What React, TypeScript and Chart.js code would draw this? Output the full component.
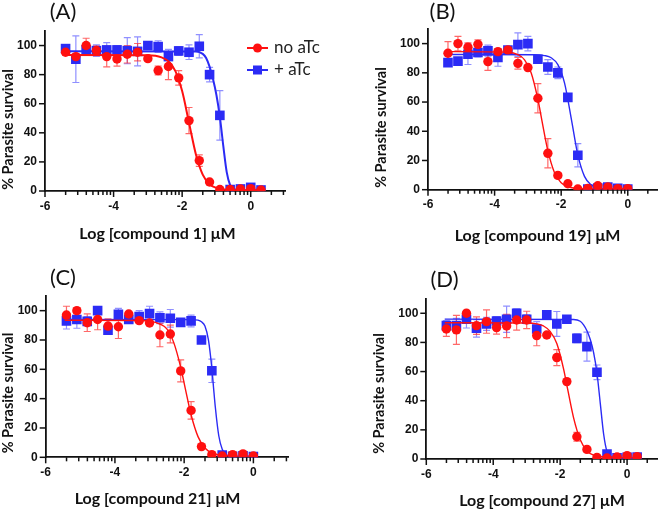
import React, { useEffect, useRef } from "react";
import { Chart, registerables } from "chart.js";

Chart.register(...registerables);

// ---------- data ----------
const dosesFull = [-5.4, -5.1, -4.8, -4.5, -4.2, -3.9, -3.6, -3.3, -3.0, -2.7, -2.4, -2.1, -1.8, -1.5, -1.2, -0.9, -0.6, -0.3, 0, 0.3];
const dosesTo0 = [-5.4, -5.1, -4.8, -4.5, -4.2, -3.9, -3.6, -3.3, -3.0, -2.7, -2.4, -2.1, -1.8, -1.5, -1.2, -0.9, -0.6, -0.3, 0];

const majorTicks = [-6, -4, -2, 0];
const minorMultipliers = [2, 3, 4, 5, 6, 7, 8, 9];
const yTicks = [0, 20, 40, 60, 80, 100];

const legendLabels = ["no aTc", "+ aTc"];

// Panel A – compound 1
const aRed = [95.4, 92.4, 100, 96.6, 92.4, 90.8, 94, 95.4, 91, 82.8, 85.6, 77.8, 48.4, 20.9, 6.2, 1, 1, 1.4, 1.6, 0.7];
const aRedErr = [2, 2, 5, 3, 7, 5, 6, 6, 1, 3, 9, 5, 9, 4, 1, 0.5, 0.5, 0.5, 0.5, 0.5];
const aBlue = [97.9, 90.6, 97, 96.5, 97, 97, 96.5, 96, 100, 99.3, 92.4, 96.3, 95.4, 99.5, 80, 52, 1, 1.4, 2.5, 0.7];
const aBlueErr = [2, 16, 2, 4, 5, 3, 9, 10, 2, 4, 5, 3, 5, 8, 5, 17, 1, 1, 1, 0.5];
const aRedCurveX = [-5.45, -3.0, -2.6, -2.4, -2.2, -2.0, -1.8, -1.6, -1.4, -1.2, -1.0, -0.8, -0.5, 0.3];
const aRedCurveY = [93.5, 93.3, 91.9, 89.2, 82.6, 68.7, 47, 25.3, 11.3, 4.7, 2.1, 1.1, 0.6, 0.5];
const aBlueCurveX = [-5.45, -1.6, -1.4, -1.3, -1.2, -1.1, -1.0, -0.9, -0.8, -0.7, -0.6, -0.5, -0.3, 0.3];
const aBlueCurveY = [96, 95.9, 94.3, 91.5, 85.5, 77, 66, 51, 31, 13, 4, 1.2, 0.6, 0.5];

// Panel B – compound 19
const bRed = [93.4, 100, 97.5, 99.5, 87.7, 94.5, 95.7, 86.5, 83.6, 62.6, 24.9, 9.8, 4.1, 0.5, 0.9, 2.7, 1.8, 0.7, 0.7];
const bRedErr = [8, 5, 3, 3, 6, 1, 1, 4, 1, 10, 10, 1.5, 1, 0.5, 0.5, 0.5, 0.5, 0.5, 0.5];
const bBlue = [87, 88, 92.7, 93.9, 95, 90.5, 95.5, 99.3, 100, 89.3, 84, 80, 63.2, 23.6, 0.5, 1.1, 1.8, 1, 0.5];
const bBlueErr = [2, 2, 7, 3, 4, 6, 1, 8, 5, 2, 5, 4, 1, 8, 0.5, 0.5, 0.5, 0.5, 0.5];
const bRedCurveX = [-5.45, -3.6, -3.3, -3.1, -2.9, -2.7, -2.58, -2.4, -2.2, -2.0, -1.8, -1.5, -1.0, 0];
const bRedCurveY = [94.5, 94.1, 92.5, 88.9, 79.9, 61.9, 47.5, 26.7, 11.6, 4.7, 2.0, 0.8, 0.5, 0.5];
const bBlueCurveX = [-5.45, -2.8, -2.5, -2.3, -2.1, -1.9, -1.68, -1.5, -1.3, -1.1, -0.9, -0.6, 0];
const bBlueCurveY = [92.5, 92.4, 91.8, 90.3, 85.6, 73.1, 46.5, 23.8, 9.1, 3.3, 1.35, 0.6, 0.5];

// Panel C – compound 21
const cRed = [97, 100, 91.8, 94, 89.5, 89, 97.7, 93.2, 91.6, 83.4, 84.1, 58.9, 32, 7.3, 1.8, 0.9, 1.8, 2.3, 0.9];
const cRedErr = [6, 2, 6, 7, 5, 8, 1, 1, 1, 8, 6, 7.5, 6, 1, 0.5, 0.5, 0.5, 0.5, 0.5];
const cBlue = [93, 94, 92.7, 100, 86.6, 97.5, 94, 96, 98, 95.2, 94.8, 92, 93, 80, 59, 1.6, 0.7, 1, 0.5];
const cBlueErr = [5.5, 6, 3, 2, 2, 4, 2, 4, 5, 4, 6, 1, 4, 1, 8, 0.5, 0.5, 0.5, 0.5];
const cRedCurveX = [-5.45, -3.3, -3.0, -2.7, -2.5, -2.3, -2.1, -1.97, -1.8, -1.6, -1.4, -1.2, -1.0, -0.7, 0];
const cRedCurveY = [93.5, 93.3, 92.9, 90.9, 87.6, 78.2, 61.4, 47.2, 29.0, 14.1, 6.3, 3.0, 1.6, 1.0, 0.8];
const cBlueCurveX = [-5.45, -1.8, -1.6, -1.5, -1.4, -1.3, -1.2, -1.15, -1.1, -1.0, -0.9, -0.8, -0.7, -0.5, 0];
const cBlueCurveY = [94, 93.9, 93.5, 92.4, 89.5, 80.3, 60.7, 47.2, 34.3, 14.7, 5.5, 2.1, 1.0, 0.5, 0.5];

// Panel D – compound 27
const dRed = [89.2, 88.6, 100, 91.5, 94.3, 90.2, 91.3, 95.4, 95.4, 84.7, 85.1, 69.6, 53.1, 15.3, 6.6, 1.1, 0.7, 1.4, 2.3, 1.6];
const dRedErr = [5, 10, 2, 6, 8, 4.5, 8, 7, 6, 7, 1, 5.5, 1, 3, 1, 0.5, 0.5, 0.5, 0.5, 0.5];
const dBlue = [91.5, 91.5, 95.9, 89.7, 92.7, 94.7, 95.9, 100, 95.9, 89.2, 98.9, 92.7, 95.9, 82.8, 77.1, 59.5, 3.4, 0.9, 1.1, 1.4];
const dBlueErr = [3.5, 5, 6, 6, 4.5, 3, 9, 3, 3, 5, 2, 8.5, 1, 3, 10, 5, 1, 0.5, 0.5, 0.5];
const dRedCurveX = [-5.45, -3.0, -2.7, -2.5, -2.3, -2.1, -1.9, -1.77, -1.6, -1.4, -1.2, -1.0, -0.7, 0.3];
const dRedCurveY = [93.5, 93.3, 92.7, 91.3, 87.6, 79.2, 62.0, 47.2, 28.4, 13.2, 5.7, 2.6, 1.5, 0.8];
const dBlueCurveX = [-5.45, -1.6, -1.4, -1.3, -1.2, -1.1, -1.0, -0.9, -0.8, -0.7, -0.6, -0.5, -0.3, 0.3];
const dBlueCurveY = [96, 95.7, 94.5, 92, 88, 82, 73, 59, 38, 17, 5, 1.5, 0.6, 0.5];

// ---------- styles ----------
const RED = "#ff1010";
const BLUE = "#2b2bf5";
const RED_ERR = "rgba(255,40,40,0.7)";
const BLUE_ERR = "rgba(70,70,255,0.6)";
const AXIS = "#111";
const TICK_FONT = { family: "Liberation Sans", size: 12, weight: "bold" as const };
const TITLE_FAMILY = 'Lato, "Open Sans", sans-serif';

type Panel = {
  letter: string;
  xTitle: string;
  doses: number[];
  red: number[];
  redErr: number[];
  blue: number[];
  blueErr: number[];
  redCx: number[];
  redCy: number[];
  blueCx: number[];
  blueCy: number[];
  xMax: number;
  left: number;
  top: number;
  right: number;
  bottom: number;
  pos: [number, number];
  letterPos: [number, number];
  yTitlePos: [number, number];
  xTitlePos: [number, number];
  legend: boolean;
  curveWidth: number;
};

const W = 332;
const H = 255;

const panels: Panel[] = [
  {
    letter: "(A)", xTitle: "Log [compound 1] μM", doses: dosesFull,
    red: aRed, redErr: aRedErr, blue: aBlue, blueErr: aBlueErr,
    redCx: aRedCurveX, redCy: aRedCurveY, blueCx: aBlueCurveX, blueCy: aBlueCurveY,
    xMax: 1, left: 45, top: 31, right: 285, bottom: 191, pos: [0, 0],
    letterPos: [63, 12], yTitlePos: [8, 129.5], xTitlePos: [157.5, 234], legend: true, curveWidth: 2,
  },
  {
    letter: "(B)", xTitle: "Log [compound 19] μM", doses: dosesTo0,
    red: bRed, redErr: bRedErr, blue: bBlue, blueErr: bBlueErr,
    redCx: bRedCurveX, redCy: bRedCurveY, blueCx: bBlueCurveX, blueCy: bBlueCurveY,
    xMax: 0.884, left: 96, top: 29, right: 332, bottom: 189.7, pos: [332, 0],
    letterPos: [110.5, 12], yTitlePos: [49, 127.5], xTitlePos: [205.5, 236], legend: false, curveWidth: 1.4,
  },
  {
    letter: "(C)", xTitle: "Log [compound 21] μM", doses: dosesTo0,
    red: cRed, redErr: cRedErr, blue: cBlue, blueErr: cBlueErr,
    redCx: cRedCurveX, redCy: cRedCurveY, blueCx: cBlueCurveX, blueCy: cBlueCurveY,
    xMax: 1, left: 45.7, top: 41, right: 288, bottom: 202.3, pos: [0, 255],
    letterPos: [63, 23], yTitlePos: [8, 138], xTitlePos: [157.5, 244], legend: false, curveWidth: 1.4,
  },
  {
    letter: "(D)", xTitle: "Log [compound 27] μM", doses: dosesFull,
    red: dRed, redErr: dRedErr, blue: dBlue, blueErr: dBlueErr,
    redCx: dRedCurveX, redCy: dRedCurveY, blueCx: dBlueCurveX, blueCy: dBlueCurveY,
    xMax: 0.9, left: 94.3, top: 43.7, right: 332, bottom: 204, pos: [332, 255],
    letterPos: [112.5, 25], yTitlePos: [47.5, 138.5], xTitlePos: [210, 246], legend: false, curveWidth: 1.4,
  },
];

function makeDecor(p: Panel) {
  return {
    id: "decor",
    beforeDatasetsDraw(chart: any) {
      const ctx = chart.ctx as CanvasRenderingContext2D;
      const xs = chart.scales.x;
      const ys = chart.scales.y;
      const sets = [
        { vals: p.blue, errs: p.blueErr, color: BLUE_ERR },
        { vals: p.red, errs: p.redErr, color: RED_ERR },
      ];
      for (const s of sets) {
        ctx.save();
        ctx.strokeStyle = s.color;
        ctx.lineWidth = 1.2;
        p.doses.forEach((xv, i) => {
          const e = s.errs[i];
          if (!e) return;
          const px = xs.getPixelForValue(xv);
          const p1 = ys.getPixelForValue(s.vals[i] + e);
          const p2 = ys.getPixelForValue(s.vals[i] - e);
          ctx.beginPath();
          ctx.moveTo(px, p1);
          ctx.lineTo(px, p2);
          ctx.moveTo(px - 3.5, p1);
          ctx.lineTo(px + 3.5, p1);
          ctx.moveTo(px - 3.5, p2);
          ctx.lineTo(px + 3.5, p2);
          ctx.stroke();
        });
        ctx.restore();
      }
    },
    afterDraw(chart: any) {
      const ctx = chart.ctx as CanvasRenderingContext2D;
      const xs = chart.scales.x;
      const ys = chart.scales.y;
      const area = chart.chartArea;
      ctx.save();
      ctx.strokeStyle = AXIS;
      ctx.lineWidth = 1.5;
      // x ticks
      for (const m of majorTicks) {
        const px = xs.getPixelForValue(m);
        ctx.beginPath();
        ctx.moveTo(px, area.bottom);
        ctx.lineTo(px, area.bottom + 6);
        ctx.stroke();
        for (const k of minorMultipliers) {
          const v = m + 2 * Math.log10(k);
          if (v > p.xMax) continue;
          const q = xs.getPixelForValue(v);
          ctx.beginPath();
          ctx.moveTo(q, area.bottom);
          ctx.lineTo(q, area.bottom + 4);
          ctx.stroke();
        }
      }
      // y ticks
      for (const t of yTicks) {
        const py = ys.getPixelForValue(t);
        ctx.beginPath();
        ctx.moveTo(area.left - 6, py);
        ctx.lineTo(area.left, py);
        ctx.stroke();
      }
      // panel letter
      ctx.fillStyle = "#111";
      ctx.font = `22px ${TITLE_FAMILY}`;
      ctx.textAlign = "center";
      ctx.textBaseline = "middle";
      ctx.fillText(p.letter, p.letterPos[0], p.letterPos[1]);
      // x title
      ctx.font = `bold 16px ${TITLE_FAMILY}`;
      ctx.fillText(p.xTitle, p.xTitlePos[0], p.xTitlePos[1]);
      // y title
      ctx.save();
      ctx.translate(p.yTitlePos[0], p.yTitlePos[1]);
      ctx.rotate(-Math.PI / 2);
      ctx.font = `bold 14.5px ${TITLE_FAMILY}`;
      ctx.fillText("% Parasite survival", 0, 0);
      ctx.restore();
      // legend
      if (p.legend) {
        const items = [
          { label: legendLabels[0], color: RED, y: 48, shape: "circle" },
          { label: legendLabels[1], color: BLUE, y: 70, shape: "rect" },
        ];
        for (const it of items) {
          ctx.strokeStyle = it.color;
          ctx.fillStyle = it.color;
          ctx.lineWidth = 2;
          ctx.beginPath();
          ctx.moveTo(247, it.y);
          ctx.lineTo(268, it.y);
          ctx.stroke();
          if (it.shape === "circle") {
            ctx.beginPath();
            ctx.arc(257.5, it.y, 4.5, 0, Math.PI * 2);
            ctx.fill();
          } else {
            ctx.fillRect(253, it.y - 4.5, 9, 9);
          }
          ctx.fillStyle = "#222";
          ctx.font = `17px ${TITLE_FAMILY}`;
          ctx.textAlign = "left";
          ctx.fillText(it.label, 274, it.y);
        }
      }
      ctx.restore();
    },
  };
}

function PanelChart({ p }: { p: Panel }) {
  const ref = useRef<HTMLCanvasElement | null>(null);
  useEffect(() => {
    if (!ref.current) return;
    const xAxisH = 20;
    const chart = new Chart(ref.current, {
      type: "scatter",
      data: {
        datasets: [
          {
            data: p.doses.map((x, i) => ({ x, y: p.red[i] })),
            backgroundColor: RED,
            borderWidth: 0,
            pointStyle: "circle",
            pointRadius: 4.7,
            showLine: false,
          },
          {
            data: p.redCx.map((x, i) => ({ x, y: p.redCy[i] })),
            borderColor: RED,
            borderWidth: p.curveWidth,
            pointRadius: 0,
            showLine: true,
            cubicInterpolationMode: "monotone",
          } as any,
          {
            data: p.doses.map((x, i) => ({ x, y: p.blue[i] })),
            backgroundColor: BLUE,
            borderWidth: 0,
            pointStyle: "rect",
            pointRadius: 6.8,
            showLine: false,
          },
          {
            data: p.blueCx.map((x, i) => ({ x, y: p.blueCy[i] })),
            borderColor: BLUE,
            borderWidth: p.curveWidth,
            pointRadius: 0,
            showLine: true,
            cubicInterpolationMode: "monotone",
          } as any,
        ],
      },
      options: {
        animation: false,
        responsive: false,
        devicePixelRatio: 1,
        events: [],
        layout: {
          padding: { left: 0, top: p.top, right: W - p.right, bottom: H - p.bottom - xAxisH },
        },
        plugins: { legend: { display: false }, tooltip: { enabled: false }, title: { display: false } },
        scales: {
          x: {
            type: "linear",
            min: -6,
            max: p.xMax,
            afterBuildTicks: (s: any) => {
              s.ticks = majorTicks.map((v) => ({ value: v }));
            },
            afterFit: (s: any) => {
              s.height = xAxisH;
            },
            ticks: {
              font: TICK_FONT,
              color: AXIS,
              padding: 8,
              maxRotation: 0,
              autoSkip: false,
              callback: (v: any) => `${v}`,
            },
            grid: { display: false, drawTicks: false },
            border: { display: true, color: AXIS, width: 1.8 },
          },
          y: {
            type: "linear",
            min: 0,
            max: 110,
            afterBuildTicks: (s: any) => {
              s.ticks = yTicks.map((v) => ({ value: v }));
            },
            afterFit: (s: any) => {
              s.width = p.left;
            },
            ticks: {
              font: TICK_FONT,
              color: AXIS,
              padding: 8,
              callback: (v: any) => `${v}`,
            },
            grid: { display: false, drawTicks: false },
            border: { display: true, color: AXIS, width: 1.8 },
          },
        },
      },
      plugins: [makeDecor(p)],
    });
    return () => chart.destroy();
  }, [p]);
  return (
    <canvas
      ref={ref}
      width={W}
      height={H}
      style={{ position: "absolute", left: p.pos[0], top: p.pos[1], width: W, height: H }}
    />
  );
}

export default function App() {
  return (
    <div
      style={{
        position: "absolute",
        left: 0,
        top: 0,
        width: 664,
        height: 510,
        overflow: "hidden",
        background: "#fff",
      }}
    >
      {panels.map((p) => (
        <PanelChart key={p.letter} p={p} />
      ))}
    </div>
  );
}
